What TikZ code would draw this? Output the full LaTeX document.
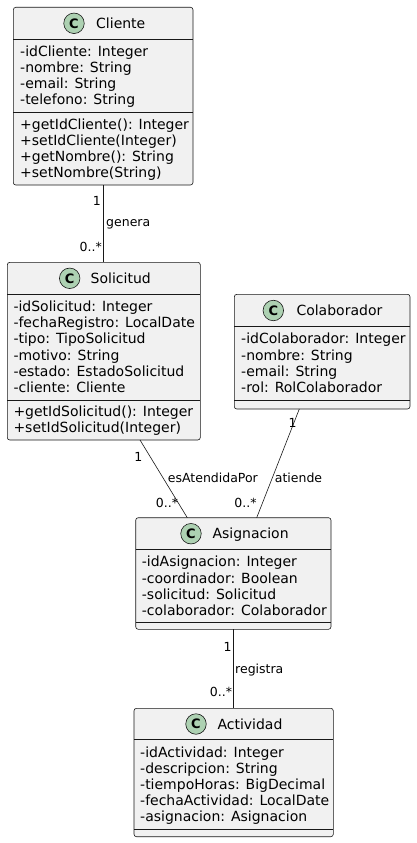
\documentclass[tikz,border=0pt]{standalone}
\usepackage{fontspec}
\setmainfont{DejaVu Sans}
\usetikzlibrary{calc}
\definecolor{boxfill}{HTML}{F1F1F1}
\definecolor{boxline}{HTML}{181818}
\definecolor{spot}{HTML}{ADD1B2}
\tikzset{
  classbox/.style={draw=boxline, fill=boxfill, line width=0.6pt, rounded corners=2.5pt, anchor=north west, inner sep=0pt, outer sep=0pt},
  sepline/.style={draw=boxline, line width=0.6pt},
  spotc/.style={circle, draw=boxline, fill=spot, line width=0.6pt, minimum size=20.5pt, inner sep=0pt, font=\fontsize{13}{13}\selectfont\bfseries},
  cname/.style={anchor=base west, inner sep=0pt, font=\fontsize{14}{16}\selectfont},
  member/.style={anchor=base west, inner sep=0pt, font=\fontsize{14}{16}\selectfont},
  assoc/.style={draw=boxline, line width=0.6pt},
  rlabel/.style={inner sep=0pt, font=\fontsize{12.5}{14}\selectfont},
}
\newcommand\members[5]{% name prefix, x, first baseline, spacing, list
  \foreach \t [count=\i from 0] in {#5} {\node[member] (#1\i) at (#2, #3+#4*\i) {\t};}}
\begin{document}
\begin{tikzpicture}[x=1pt, y=-1pt]
\useasboundingbox (0,0) rectangle (416,843);

% Cliente
\node[classbox, minimum width=179.7pt, minimum height=177.7pt] (cliente) at (13.3,7.3) {};
\draw[sepline] ([yshift=-32pt]cliente.north west) -- ([yshift=-32pt]cliente.north east);
\draw[sepline] ([yshift=-105pt]cliente.north west) -- ([yshift=-105pt]cliente.north east);
\node[spotc] (clienteC) at (74,23.3) {C};
\node[cname] (clienteN) at (96,28.3) {Cliente};
\members{clienteA}{20}{56.4}{15.9}{-idCliente: Integer,-nombre: String,-email: String,-telefono: String}
\members{clienteM}{20}{129.5}{15.9}{+getIdCliente(): Integer,+setIdCliente(Integer),+getNombre(): String,+setNombre(String)}

% Solicitud
\node[classbox, minimum width=193pt, minimum height=177.7pt] (solicitud) at (7.3,262.3) {};
\draw[sepline] ([yshift=-31.7pt]solicitud.north west) -- ([yshift=-31.7pt]solicitud.north east);
\draw[sepline] ([yshift=-138.4pt]solicitud.north west) -- ([yshift=-138.4pt]solicitud.north east);
\node[spotc] (solicitudC) at (69.7,278.3) {C};
\node[cname] (solicitudN) at (90.5,283.3) {Solicitud};
\members{solicitudA}{13.3}{311.2}{16.3}{-idSolicitud: Integer,-fechaRegistro: LocalDate,-tipo: TipoSolicitud,-motivo: String,-estado: EstadoSolicitud,-cliente: Cliente}
\members{solicitudM}{13.3}{416.2}{16.5}{+getIdSolicitud(): Integer,+setIdSolicitud(Integer)}

% Colaborador
\node[classbox, minimum width=175.7pt, minimum height=114.7pt] (colaborador) at (234.3,294.3) {};
\draw[sepline] ([yshift=-32.4pt]colaborador.north west) -- ([yshift=-32.4pt]colaborador.north east);
\draw[sepline] ([yshift=-105.9pt]colaborador.north west) -- ([yshift=-105.9pt]colaborador.north east);
\node[spotc] (colaboradorC) at (273.3,310.5) {C};
\node[cname] (colaboradorN) at (296.3,315.5) {Colaborador};
\members{colaboradorA}{241}{343.8}{16.2}{-idColaborador: Integer,-nombre: String,-email: String,-rol: RolColaborador}

% Asignacion
\node[classbox, minimum width=195.3pt, minimum height=111.6pt] (asignacion) at (135.7,517.7) {};
\draw[sepline] ([yshift=-31.6pt]asignacion.north west) -- ([yshift=-31.6pt]asignacion.north east);
\draw[sepline] ([yshift=-104.6pt]asignacion.north west) -- ([yshift=-104.6pt]asignacion.north east);
\node[spotc] (asignacionC) at (191,533.7) {C};
\node[cname] (asignacionN) at (212.3,538.7) {Asignacion};
\members{asignacionA}{141.7}{566.8}{16.2}{-idAsignacion: Integer,-coordinador: Boolean,-solicitud: Solicitud,-colaborador: Colaborador}

% Actividad
\node[classbox, minimum width=199.3pt, minimum height=128.4pt] (actividad) at (134,708.3) {};
\draw[sepline] ([yshift=-30.7pt]actividad.north west) -- ([yshift=-30.7pt]actividad.north east);
\draw[sepline] ([yshift=-121pt]actividad.north west) -- ([yshift=-121pt]actividad.north east);
\node[spotc] (actividadC) at (196,724) {C};
\node[cname] (actividadN) at (217.3,729) {Actividad};
\members{actividadA}{140}{757.2}{16.1}{-idActividad: Integer,-descripcion: String,-tiempoHoras: BigDecimal,-fechaActividad: LocalDate,-asignacion: Asignacion}

% Associations
\draw[assoc] (cliente.south) -- (cliente.south |- solicitud.north);
\draw[assoc] ($(solicitud.south west)+(132.7,0)$) -- ($(asignacion.north west)+(51.6,0)$);
\draw[assoc] ($(colaborador.south west)+(65,0)$) -- ($(asignacion.north west)+(121,0)$);
\draw[assoc] (asignacion.south) -- (asignacion.south |- actividad.north);

% Labels
\node[rlabel, anchor=base east] (l1) at (101,205.2) {1};
\node[rlabel, anchor=base west] (l2) at (106,226.8) {genera};
\node[rlabel, anchor=base east] (l3) at (102,251.2) {0..*};

\node[rlabel, anchor=base east] (l4) at (142.5,461.2) {1};
\node[rlabel, anchor=base west] (l5) at (167.7,482.8) {esAtendidaPor};
\node[rlabel, anchor=base east] (l6) at (178.3,507.8) {0..*};

\node[rlabel, anchor=base east] (l7) at (296.7,427.8) {1};
\node[rlabel, anchor=base west] (l8) at (274.7,482.8) {atiende};
\node[rlabel, anchor=base east] (l9) at (256.7,507.8) {0..*};

\node[rlabel, anchor=base east] (l10) at (231.7,651.2) {1};
\node[rlabel, anchor=base west] (l11) at (235,673.5) {registra};
\node[rlabel, anchor=base east] (l12) at (232.3,696.2) {0..*};
\end{tikzpicture}
\end{document}
